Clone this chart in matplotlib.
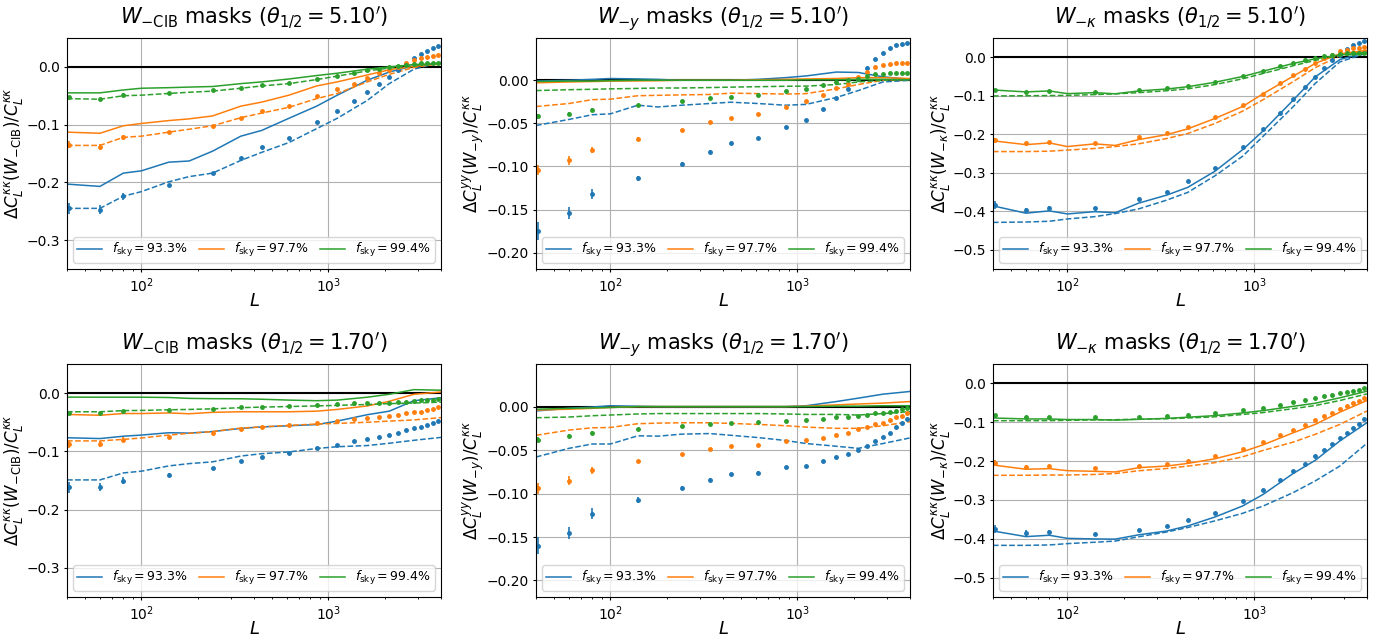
import numpy as np
import matplotlib
matplotlib.use("Agg")
from matplotlib import pyplot as plt

# multipole bins of the simulated points and nodes of the analytic curves
L_bins = [41, 60, 80, 140, 240, 340, 440, 615, 865, 1115, 1365, 1615, 1865,
          2115, 2365, 2615, 2865, 3115, 3365, 3615, 3865]
L_curve = [40, 60, 80, 100, 140, 180, 240, 340, 440, 615, 865, 1115, 1615,
           2115, 2865, 4000]

fsky_labels = ["93.3", "97.7", "99.4"]
colors = ["tab:blue", "tab:orange", "tab:green"]

# scatter of the simulated points, per sky fraction
err_bins = [
    [0.010, 0.007, 0.006, 0.003, 0.002, 0.002, 0.0015, 0.0015, 0.001, 0.001, 0.001,
     0.001, 0.001, 0.001, 0.001, 0.001, 0.001, 0.001, 0.001, 0.001, 0.001],
    [0.006, 0.005, 0.004, 0.002, 0.0015, 0.001, 0.001, 0.001, 0.001, 0.001, 0.001,
     0.001, 0.001, 0.001, 0.001, 0.001, 0.001, 0.001, 0.001, 0.001, 0.001],
    [0.003, 0.002, 0.002, 0.001, 0.001, 0.001, 0.001, 0.001, 0.001, 0.001, 0.001,
     0.001, 0.001, 0.001, 0.001, 0.001, 0.001, 0.001, 0.001, 0.001, 0.001],
]

# W_-CIB, theta = 5.10'
cib510_solid = [
    [-0.203, -0.207, -0.184, -0.180, -0.165, -0.163, -0.146, -0.120, -0.110, -0.089, -0.068, -0.049, -0.023, -0.009, 0.002, 0.006],
    [-0.113, -0.115, -0.102, -0.098, -0.093, -0.090, -0.085, -0.068, -0.061, -0.049, -0.033, -0.026, -0.014, -0.005, 0.001, 0.005],
    [-0.045, -0.045, -0.040, -0.037, -0.036, -0.035, -0.034, -0.029, -0.026, -0.021, -0.015, -0.011, -0.004, 0.000, 0.004, 0.006],
]
cib510_dashed = [
    [-0.245, -0.245, -0.224, -0.216, -0.199, -0.190, -0.184, -0.162, -0.148, -0.131, -0.107, -0.089, -0.058, -0.029, -0.004, 0.008],
    [-0.136, -0.136, -0.122, -0.120, -0.113, -0.108, -0.102, -0.088, -0.080, -0.070, -0.055, -0.046, -0.026, -0.013, -0.001, 0.007],
    [-0.055, -0.056, -0.050, -0.049, -0.046, -0.044, -0.042, -0.037, -0.033, -0.029, -0.022, -0.016, -0.007, -0.002, 0.002, 0.006],
]
cib510_pts = [
    [-0.245, -0.247, -0.224, -0.205, -0.184, -0.158, -0.139, -0.123, -0.095, -0.076, -0.059, -0.044, -0.030, -0.018, -0.005, 0.005, 0.015, 0.022, 0.028, 0.033, 0.036],
    [-0.135, -0.139, -0.122, -0.113, -0.102, -0.088, -0.077, -0.068, -0.051, -0.039, -0.029, -0.019, -0.011, -0.005, 0.000, 0.007, 0.012, 0.015, 0.017, 0.019, 0.021],
    [-0.053, -0.056, -0.048, -0.045, -0.040, -0.036, -0.032, -0.028, -0.021, -0.015, -0.010, -0.006, -0.003, -0.001, 0.002, 0.004, 0.005, 0.006, 0.007, 0.007, 0.007],
]

# W_-y, theta = 5.10'
y510_solid = [
    [-0.001, 0.000, 0.001, 0.002, 0.0015, 0.001, 0.000, 0.000, 0.000, 0.001, 0.003, 0.005, 0.0095, 0.009, 0.004, 0.001],
    [-0.003, -0.002, -0.0015, -0.001, -0.0008, -0.0005, 0.000, 0.000, 0.000, 0.0005, 0.001, 0.0015, 0.002, 0.003, 0.003, 0.002],
    [-0.0015, -0.001, -0.001, -0.0005, 0.000, 0.000, 0.000, 0.000, 0.000, 0.000, 0.000, 0.0005, 0.0005, 0.001, 0.001, 0.0005],
]
y510_dashed = [
    [-0.0525, -0.0455, -0.040, -0.039, -0.029, -0.031, -0.029, -0.027, -0.0255, -0.027, -0.029, -0.028, -0.020, -0.012, -0.002, 0.000],
    [-0.0305, -0.027, -0.0225, -0.022, -0.018, -0.0175, -0.017, -0.0165, -0.015, -0.0155, -0.016, -0.0155, -0.010, -0.005, 0.000, 0.001],
    [-0.012, -0.011, -0.0105, -0.010, -0.0095, -0.009, -0.009, -0.0085, -0.008, -0.0075, -0.007, -0.0068, -0.005, -0.002, 0.000, 0.001],
]
y510_pts = [
    [-0.175, -0.154, -0.132, -0.114, -0.097, -0.083, -0.073, -0.067, -0.054, -0.046, -0.033, -0.021, -0.010, 0.002, 0.014, 0.025, 0.032, 0.037, 0.041, 0.042, 0.043],
    [-0.104, -0.093, -0.081, -0.068, -0.058, -0.049, -0.044, -0.039, -0.031, -0.024, -0.017, -0.009, -0.004, 0.004, 0.009, 0.015, 0.018, 0.019, 0.020, 0.020, 0.020],
    [-0.042, -0.039, -0.034, -0.029, -0.024, -0.021, -0.019, -0.017, -0.013, -0.010, -0.006, -0.002, 0.000, 0.002, 0.005, 0.007, 0.007, 0.008, 0.008, 0.008, 0.008],
]

# W_-kappa, theta = 5.10'
k510_solid = [
    [-0.386, -0.405, -0.399, -0.407, -0.401, -0.404, -0.379, -0.358, -0.338, -0.296, -0.240, -0.191, -0.111, -0.051, -0.006, 0.014],
    [-0.217, -0.227, -0.2225, -0.232, -0.225, -0.229, -0.214, -0.201, -0.186, -0.159, -0.128, -0.0945, -0.049, -0.016, 0.009, 0.018],
    [-0.085, -0.090, -0.0875, -0.0945, -0.092, -0.095, -0.0875, -0.0825, -0.0765, -0.065, -0.050, -0.036, -0.016, -0.004, 0.006, 0.012],
]
k510_dashed = [
    [-0.429, -0.428, -0.426, -0.420, -0.414, -0.406, -0.394, -0.371, -0.351, -0.308, -0.257, -0.205, -0.128, -0.068, -0.012, 0.011],
    [-0.245, -0.245, -0.244, -0.241, -0.237, -0.232, -0.225, -0.211, -0.198, -0.172, -0.140, -0.110, -0.063, -0.027, 0.004, 0.016],
    [-0.1005, -0.100, -0.0995, -0.099, -0.097, -0.095, -0.092, -0.087, -0.082, -0.071, -0.056, -0.042, -0.022, -0.008, 0.004, 0.011],
]
k510_pts = [
    [-0.383, -0.398, -0.392, -0.392, -0.369, -0.349, -0.322, -0.287, -0.233, -0.186, -0.146, -0.109, -0.078, -0.050, -0.027, -0.006, 0.005, 0.022, 0.033, 0.038, 0.042],
    [-0.216, -0.224, -0.221, -0.2225, -0.208, -0.196, -0.180, -0.156, -0.123, -0.0945, -0.068, -0.046, -0.030, -0.015, -0.003, 0.006, 0.015, 0.020, 0.023, 0.025, 0.026],
    [-0.085, -0.089, -0.088, -0.089, -0.085, -0.081, -0.075, -0.064, -0.049, -0.036, -0.024, -0.015, -0.008, -0.003, 0.003, 0.007, 0.009, 0.011, 0.012, 0.012, 0.012],
]

# W_-CIB, theta = 1.70'
cib170_solid = [
    [-0.0766, -0.078, -0.074, -0.072, -0.068, -0.0686, -0.066, -0.0606, -0.058, -0.056, -0.054, -0.048, -0.037, -0.031, -0.013, -0.008],
    [-0.0366, -0.038, -0.035, -0.035, -0.034, -0.0354, -0.033, -0.032, -0.032, -0.032, -0.031, -0.028, -0.022, -0.014, -0.002, 0.002],
    [-0.0069, -0.007, -0.007, -0.007, -0.0075, -0.009, -0.0095, -0.0097, -0.0105, -0.012, -0.013, -0.012, -0.007, -0.002, 0.006, 0.005],
]
cib170_dashed = [
    [-0.149, -0.149, -0.137, -0.134, -0.125, -0.121, -0.118, -0.108, -0.104, -0.101, -0.095, -0.092, -0.090, -0.086, -0.081, -0.076],
    [-0.082, -0.082, -0.0794, -0.077, -0.072, -0.069, -0.066, -0.060, -0.058, -0.0554, -0.053, -0.052, -0.050, -0.048, -0.046, -0.042],
    [-0.032, -0.032, -0.030, -0.0297, -0.0286, -0.028, -0.027, -0.025, -0.024, -0.023, -0.022, -0.021, -0.0195, -0.018, -0.017, -0.0155],
]
cib170_pts = [
    [-0.162, -0.161, -0.150, -0.140, -0.129, -0.117, -0.109, -0.103, -0.094, -0.0897, -0.083, -0.078, -0.075, -0.0714, -0.068, -0.064, -0.0605, -0.0577, -0.0548, -0.0508, -0.048],
    [-0.088, -0.088, -0.080, -0.075, -0.069, -0.062, -0.058, -0.055, -0.051, -0.048, -0.045, -0.043, -0.0405, -0.039, -0.0377, -0.0348, -0.033, -0.0326, -0.029, -0.027, -0.0246],
    [-0.034, -0.034, -0.031, -0.029, -0.027, -0.024, -0.023, -0.022, -0.021, -0.018, -0.0177, -0.017, -0.0166, -0.0166, -0.0154, -0.015, -0.0143, -0.0126, -0.0114, -0.011, -0.0097],
]

# W_-y, theta = 1.70'
y170_solid = [
    [-0.005, -0.002, -0.0005, 0.001, 0.0004, 0.000, 0.000, 0.000, 0.000, 0.000, 0.000, 0.001, 0.0058, 0.0097, 0.0143, 0.0174],
    [-0.004, -0.003, -0.002, -0.001, 0.000, 0.000, 0.000, 0.000, 0.000, 0.000, 0.000, 0.0005, 0.002, 0.003, 0.004, 0.0058],
    [-0.003, -0.002, -0.0015, -0.001, 0.000, 0.000, 0.000, 0.000, 0.000, 0.000, 0.000, 0.000, 0.0005, 0.0005, 0.001, 0.001],
]
y170_dashed = [
    [-0.058, -0.048, -0.043, -0.043, -0.0336, -0.034, -0.0317, -0.031, -0.033, -0.0356, -0.039, -0.0425, -0.0456, -0.048, -0.0425, -0.036],
    [-0.033, -0.027, -0.0244, -0.024, -0.0197, -0.019, -0.0186, -0.0186, -0.0193, -0.0205, -0.022, -0.0236, -0.025, -0.025, -0.022, -0.0174],
    [-0.0128, -0.012, -0.0105, -0.0097, -0.0085, -0.008, -0.008, -0.008, -0.008, -0.008, -0.0085, -0.009, -0.009, -0.0097, -0.008, -0.0058],
]
y170_pts = [
    [-0.160, -0.145, -0.123, -0.1075, -0.0936, -0.084, -0.078, -0.076, -0.070, -0.068, -0.0626, -0.058, -0.055, -0.0495, -0.045, -0.040, -0.035, -0.030, -0.024, -0.019, -0.014],
    [-0.094, -0.085, -0.073, -0.063, -0.055, -0.049, -0.045, -0.0445, -0.040, -0.0387, -0.0356, -0.0325, -0.030, -0.026, -0.024, -0.0205, -0.0186, -0.0155, -0.0124, -0.0104, -0.0077],
    [-0.038, -0.034, -0.030, -0.0255, -0.022, -0.020, -0.0186, -0.0178, -0.016, -0.0155, -0.014, -0.0124, -0.012, -0.0104, -0.0097, -0.0077, -0.007, -0.0058, -0.0046, -0.003, -0.002],
]

# W_-kappa, theta = 1.70'
k170_solid = [
    [-0.380, -0.3945, -0.391, -0.399, -0.4005, -0.401, -0.390, -0.380, -0.367, -0.344, -0.3156, -0.2856, -0.2316, -0.198, -0.148, -0.101],
    [-0.210, -0.221, -0.2195, -0.2247, -0.2264, -0.228, -0.217, -0.2127, -0.206, -0.194, -0.176, -0.158, -0.127, -0.1055, -0.074, -0.044],
    [-0.089, -0.0915, -0.0915, -0.093, -0.093, -0.0945, -0.0925, -0.090, -0.087, -0.083, -0.076, -0.070, -0.059, -0.051, -0.037, -0.020],
]
k170_dashed = [
    [-0.417, -0.417, -0.416, -0.4125, -0.409, -0.406, -0.395, -0.3825, -0.371, -0.354, -0.3345, -0.3156, -0.281, -0.251, -0.2127, -0.154],
    [-0.2367, -0.2365, -0.236, -0.2358, -0.2345, -0.232, -0.225, -0.219, -0.213, -0.204, -0.189, -0.1724, -0.151, -0.131, -0.1055, -0.071],
    [-0.096, -0.096, -0.0958, -0.095, -0.094, -0.0935, -0.092, -0.091, -0.089, -0.086, -0.080, -0.075, -0.065, -0.057, -0.044, -0.027],
]
k170_pts = [
    [-0.374, -0.385, -0.3825, -0.3885, -0.378, -0.367, -0.353, -0.333, -0.303, -0.274, -0.249, -0.2256, -0.207, -0.188, -0.172, -0.155, -0.140, -0.1286, -0.114, -0.104, -0.0926],
    [-0.204, -0.215, -0.2135, -0.218, -0.2127, -0.2067, -0.200, -0.187, -0.168, -0.151, -0.134, -0.119, -0.107, -0.095, -0.085, -0.0755, -0.067, -0.058, -0.050, -0.044, -0.038],
    [-0.082, -0.0866, -0.0858, -0.0875, -0.0866, -0.085, -0.0815, -0.077, -0.0695, -0.0626, -0.055, -0.049, -0.0437, -0.0386, -0.0334, -0.029, -0.0257, -0.0223, -0.019, -0.0163, -0.0129],
]

titles = [r"$W_{-\rm CIB}$ masks ($\theta_{1/2} = 5.10'$)",
          r"$W_{-y}$ masks ($\theta_{1/2} = 5.10'$)",
          r"$W_{-\kappa}$ masks ($\theta_{1/2} = 5.10'$)",
          r"$W_{-\rm CIB}$ masks ($\theta_{1/2} = 1.70'$)",
          r"$W_{-y}$ masks ($\theta_{1/2} = 1.70'$)",
          r"$W_{-\kappa}$ masks ($\theta_{1/2} = 1.70'$)"]
ylabels = [r"$\Delta C_L^{\kappa\kappa}(W_{-\rm CIB})/C_L^{\kappa\kappa}$",
           r"$\Delta C_L^{yy}(W_{-y})/C_L^{\kappa\kappa}$",
           r"$\Delta C_L^{\kappa\kappa}(W_{-\kappa})/C_L^{\kappa\kappa}$"]
yticks = [[-0.3, -0.2, -0.1, 0.0],
          [-0.20, -0.15, -0.10, -0.05, 0.00],
          [-0.5, -0.4, -0.3, -0.2, -0.1, 0.0]]
ylims = [(-0.35, 0.05), (-0.219, 0.049), (-0.55, 0.05)]
ylabel_x = [-0.112, -0.131, -0.110]

panels = [(cib510_solid, cib510_dashed, cib510_pts),
          (y510_solid, y510_dashed, y510_pts),
          (k510_solid, k510_dashed, k510_pts),
          (cib170_solid, cib170_dashed, cib170_pts),
          (y170_solid, y170_dashed, y170_pts),
          (k170_solid, k170_dashed, k170_pts)]

W, H = 1393, 642
fig = plt.figure(figsize=(W / 100, H / 100), dpi=100)
lefts = [67, 536, 993]
rows = [(38, 231), (364, 233)]

for i, (solid, dashed, pts) in enumerate(panels):
    r, c = divmod(i, 3)
    top, h = rows[r]
    ax = fig.add_axes([lefts[c] / W, 1 - (top + h) / H, 374 / W, h / H])
    ax.axhline(0, color="k", lw=1.5)
    for j in range(3):
        ax.plot(L_curve, solid[j], color=colors[j], lw=1.1,
                label=r"$f_{\rm sky} = %s\%%$" % fsky_labels[j])
        ax.plot(L_curve, dashed[j], color=colors[j], lw=1.1, ls="--")
        ax.errorbar(L_bins, pts[j], yerr=err_bins[j], fmt=".", color=colors[j],
                    ms=5, elinewidth=1.2)
    ax.set_xscale("log")
    ax.set_xlim(40, 4000)
    ax.set_ylim(*ylims[c])
    ax.set_yticks(yticks[c])
    ax.tick_params(labelsize=10, length=2.5, pad=2.5)
    ax.tick_params(which="minor", length=1.5)
    ax.grid(True)
    ax.set_title(titles[i], fontsize=15, pad=10)
    ax.set_xlabel(r"$L$", fontsize=13)
    ax.xaxis.set_label_coords(0.5, -0.1)
    ax.set_ylabel(ylabels[c], fontsize=12)
    ax.yaxis.set_label_coords(ylabel_x[c], 0.5)
    ax.legend(loc="lower left", ncol=3, mode="expand", fontsize=9,
              borderpad=0.3, bbox_to_anchor=(0, 0, 1, 1))

plt.savefig("out.png", dpi=100)
